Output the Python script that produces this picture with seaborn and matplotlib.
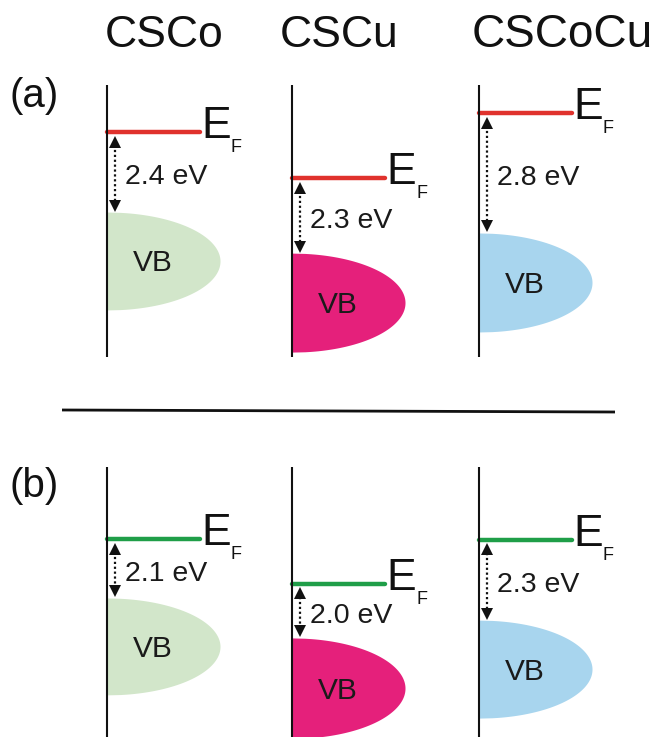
import numpy as np
import pandas as pd
import matplotlib
matplotlib.use("Agg")
import matplotlib.pyplot as plt
import seaborn as sns

# ---------------- data ----------------
materials = ["CSCo", "CSCu", "CSCoCu"]
panel_labels = ["(a)", "(b)"]
# gap between Fermi level and valence-band top (eV)
gap_a = [2.4, 2.3, 2.8]
gap_b = [2.1, 2.0, 2.3]
# schematic energy levels (arbitrary units: 0 = panel bottom, 10 = panel top)
ef_a = [8.27, 6.58, 8.97]
vbtop_a = [5.33, 3.82, 4.56]
vbbot_a = [1.73, 0.18, 0.92]
ef_b = [7.33, 5.67, 7.30]
vbtop_b = [5.15, 3.67, 4.33]
vbbot_b = [1.56, -0.05, 0.70]

ef_colors = ["#e0322d", "#1f9e48"]
vb_colors = ["#d2e6ca", "#e5207b", "#a8d5ee"]

# ---------------- style ----------------
sns.set_theme(style="white")
plt.rcParams["font.family"] = ["Liberation Sans", "DejaVu Sans"]

W, H = 656, 737
fig = plt.figure(figsize=(W / 100, H / 100), dpi=100)
ax = fig.add_axes([0, 0, 1, 1])
ax.set_xlim(0, W)
ax.set_ylim(H, 0)
ax.axis("off")

# layout (pixels)
col_x = [107, 292, 479]
panel_top = [85, 467]
panel_bot = [357, 737]
ef_len = 93
vb_half_w = 113


def to_px(e, p):
    return panel_bot[p] - e / 10.0 * (panel_bot[p] - panel_top[p])


panels = [
    dict(ef=ef_a, top=vbtop_a, bot=vbbot_a, gap=gap_a),
    dict(ef=ef_b, top=vbtop_b, bot=vbbot_b, gap=gap_b),
]

# titles
title_x = [164, 339]
for i, name in enumerate(materials):
    if i < 2:
        ax.text(title_x[i], 47, name, ha="center", va="baseline", fontsize=32, color="#111111")
    else:
        ax.text(472, 47, name, ha="left", va="baseline", fontsize=33, color="#111111")

# panel labels
label_base = [107, 497]
for p, lab in enumerate(panel_labels):
    ax.text(10, label_base[p], lab, ha="left", va="baseline", fontsize=29, color="#111111")

# separator
ax.plot([62, 615], [410, 412], color="#111111", lw=2, solid_capstyle="butt")

for p, d in enumerate(panels):
    rows = []
    for i, name in enumerate(materials):
        x0 = col_x[i]
        efy = to_px(d["ef"][i], p)
        ty = to_px(d["top"][i], p)
        by = to_px(d["bot"][i], p)
        rows.append({"x": x0, "y": efy, "id": name})
        rows.append({"x": x0 + ef_len, "y": efy, "id": name})

        # valence band: half ellipse
        ys = np.linspace(ty, by, 300)
        c = (ty + by) / 2
        b = (by - ty) / 2
        xs = vb_half_w * np.sqrt(np.clip(1 - ((ys - c) / b) ** 2, 0, 1))
        ax.fill_betweenx(ys, x0, x0 + xs, color=vb_colors[i], lw=0, zorder=1)
        ax.text(x0 + 46, c + 10.5, "VB", ha="center", va="baseline", fontsize=21.5,
                color="#1a1a1a", zorder=4)

        # vertical energy axis line
        ax.plot([x0, x0], [panel_top[p], panel_bot[p]], color="#111111", lw=1.5,
                solid_capstyle="butt", zorder=3)

        # double arrow (dotted)
        ax_x = x0 + 8
        y1 = efy + 4
        y2 = ty - 1
        ax.plot([ax_x, ax_x], [y1 + 9, y2 - 9], color="#111111", lw=1.6,
                linestyle=(0, (1, 1.2)), zorder=3)
        ax.plot([ax_x], [y1 + 5.5], marker="^", ms=8, color="#111111", mew=0, zorder=3)
        ax.plot([ax_x], [y2 - 5.5], marker="v", ms=8, color="#111111", mew=0, zorder=3)

        # gap label
        mid = (efy + ty) / 2
        ax.text(x0 + 18, mid + 12, f"{d['gap'][i]:.1f} eV", ha="left", va="baseline",
                fontsize=20.5, color="#1a1a1a")

        # E_F label
        xe = x0 + ef_len
        ax.text(xe + 1, efy + 6, "E", ha="left", va="baseline", fontsize=32, color="#111111")
        ax.text(xe + 31, efy + 20, "F", ha="left", va="baseline", fontsize=13, color="#111111")

    df = pd.DataFrame(rows)
    sns.lineplot(data=df, x="x", y="y", units="id", estimator=None, sort=False,
                 color=ef_colors[p], lw=3.2, legend=False, ax=ax, zorder=2)

ax.set_xlim(0, W)
ax.set_ylim(H, 0)
ax.axis("off")
fig.savefig("out.png", dpi=100)
